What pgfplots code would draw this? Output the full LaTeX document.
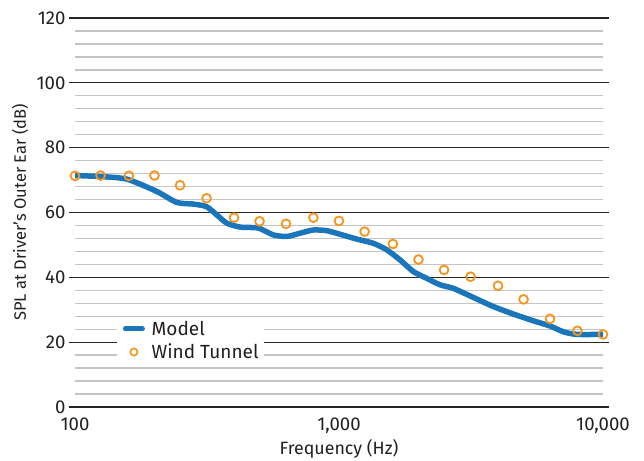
\documentclass[border=0pt]{standalone}
\usepackage{pgfplots}
\pgfplotsset{compat=1.18}
\usepackage{fontspec}
\setmainfont{Fira Sans}
\definecolor{modelblue}{HTML}{1B75BB}
\definecolor{wtorange}{HTML}{F7941D}
\definecolor{majgrid}{HTML}{262626}
\definecolor{mingrid}{HTML}{C4C4C4}
\definecolor{txt}{HTML}{231F20}
\begin{document}
\begin{tikzpicture}
\path[use as bounding box] (-75pt,-53pt) rectangle (569pt,407pt);
\begin{axis}[
  scale only axis, width=528pt, height=389pt,
  xmode=log, xmin=100, xmax=10000, ymin=0, ymax=120,
  xtick={100,1000,10000}, xticklabels={100,{1,000},{10,000}},
  xminorticks=false,
  ytick={0,20,...,120}, minor y tick num=4,
  ymajorgrids, yminorgrids,
  major grid style={majgrid, line width=1.3pt},
  minor grid style={mingrid, line width=1.4pt},
  axis line style={draw=none},
  tick align=outside,
  x tick style={draw=none},
  y tick style={majgrid, line width=1.3pt},
  major tick length=6pt, minor tick length=0pt,
  /pgf/number format/assume math mode=true,
  tick label style={font=\fontsize{18.6}{21}\selectfont, text=txt},
  xticklabel style={yshift=-1pt},
  xlabel={Frequency (Hz)},
  ylabel={SPL at Driver’s Outer Ear (dB)},
  x label style={at={(axis description cs:0.5,-0.108)}, anchor=center, font=\fontsize{17.8}{20}\selectfont, text=txt},
  y label style={at={(axis description cs:-0.104,0.5)}, anchor=center, font=\fontsize{16.5}{19}\selectfont, text=txt},
  legend style={at={(axis description cs:0.0795,0.229)}, anchor=north west, fill=white, draw=none,
    font=\fontsize{19}{21}\selectfont, text=txt, inner xsep=3pt, inner ysep=1pt, row sep=3pt},
  legend cell align=left,
]
\addplot[modelblue, line width=5.5pt, smooth, tension=0.4,
  legend image code/.code={\draw[modelblue, line width=5pt, line cap=round] (2.5pt,0pt) -- (19.5pt,0pt); \path (0pt,0pt); \path (24pt,0pt);}] coordinates {
(100,71.4) (124,71.1) (157,70.3) (204,66.5) (243,63.1) (281,62.6) (315,61.8)
(344,59.3) (376,56.7) (422,55.5) (495,55.2) (563,53.1) (634,52.6) (711,53.6)
(799,54.6) (898,54.4) (1008,53.3) (1167,51.8) (1349,50.5) (1516,48.5) (1702,45.4)
(1911,41.8) (2147,39.7) (2413,37.7) (2710,36.6) (3227,33.8) (3840,31.0)
(4567,28.7) (5443,26.6) (6297,25.0) (7077,23.2) (7950,22.4) (10000,22.4)
};
\addlegendentry{Model}
\addplot[only marks, mark=o, mark size=4.4pt, mark options={draw=wtorange, line width=1.8pt},
  legend image code/.code={\draw[wtorange, line width=1.6pt] (11pt,0pt) circle (3.6pt); \path (0pt,0pt); \path (24pt,0pt);}] coordinates {
(100,71.3) (125,71.4) (160,71.3) (200,71.4) (250,68.4) (315,64.4) (400,58.4)
(500,57.3) (630,56.5) (800,58.4) (1000,57.4) (1250,54.1) (1600,50.3) (2000,45.5)
(2500,42.3) (3150,40.2) (4000,37.4) (5000,33.2) (6300,27.2) (8000,23.5) (10000,22.4)
};
\addlegendentry{Wind Tunnel}
\end{axis}
\end{tikzpicture}
\end{document}
